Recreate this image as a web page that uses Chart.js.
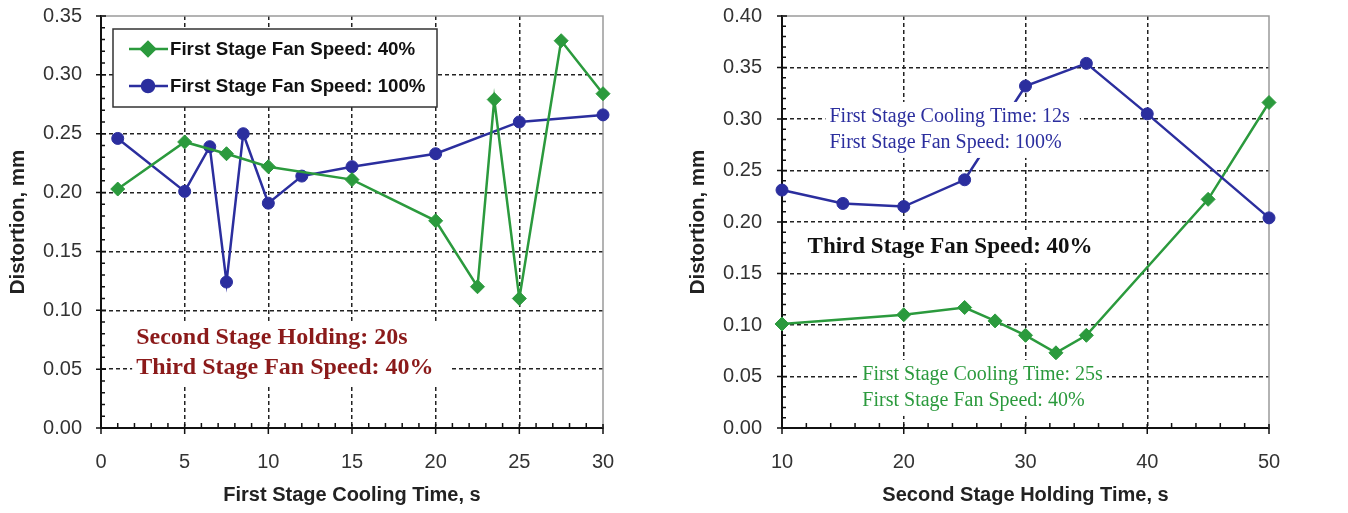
<!DOCTYPE html>
<html>
<head>
<meta charset="utf-8">
<title>Distortion vs cooling and holding time</title>
<script src="https://cdn.jsdelivr.net/npm/chart.js@4/dist/chart.umd.min.js"></script>
<style>
  html, body { margin: 0; padding: 0; background: #fff; }
  #wrap { position: relative; width: 1348px; height: 513px; overflow: hidden; }
  canvas { position: absolute; top: 0; }
</style>
</head>
<body>
<div id="wrap">
  <canvas id="left" width="670" height="513" style="left:0"></canvas>
  <canvas id="right" width="678" height="513" style="left:670px"></canvas>
</div>
<script>
// first stage cooling time sweep
const coolTime40 = [1, 5, 7.5, 10, 15, 20, 22.5, 23.5, 25, 27.5, 30];
const distort40 = [0.203, 0.243, 0.233, 0.222, 0.211, 0.176, 0.120, 0.279, 0.110, 0.329, 0.284];
const coolTime100 = [1, 5, 6.5, 7.5, 8.5, 10, 12, 15, 20, 25, 30];
const distort100 = [0.246, 0.201, 0.239, 0.124, 0.250, 0.191, 0.214, 0.222, 0.233, 0.260, 0.266];

// second stage holding time sweep
const holdTime12s = [10, 15, 20, 25, 30, 35, 40, 50];
const distort12s = [0.231, 0.218, 0.215, 0.241, 0.332, 0.354, 0.305, 0.204];
const holdTime25s = [10, 20, 25, 27.5, 30, 32.5, 35, 45, 50];
const distort25s = [0.101, 0.110, 0.117, 0.104, 0.090, 0.073, 0.090, 0.222, 0.316];

// axis ticks
const coolTicks = [0, 5, 10, 15, 20, 25, 30];
const holdTicks = [10, 20, 30, 40, 50];
const leftDistTicks = [0, 0.05, 0.10, 0.15, 0.20, 0.25, 0.30, 0.35];
const rightDistTicks = [0, 0.05, 0.10, 0.15, 0.20, 0.25, 0.30, 0.35, 0.40];

const legendLabels = ['First Stage Fan Speed: 40%', 'First Stage Fan Speed: 100%'];

const GREEN = '#2b9a3d';
const BLUE = '#2b2e9e';
const SANS = '"Liberation Sans", Arial, sans-serif';
const SERIF = '"Liberation Serif", "Times New Roman", serif';

const toXY = (xs, ys) => xs.map((x, i) => ({x: x, y: ys[i]}));

function series(label, xs, ys, color, shape) {
  return {
    label: label,
    data: toXY(xs, ys),
    borderColor: color,
    backgroundColor: color,
    borderWidth: 2.5,
    pointStyle: shape,
    pointRadius: shape === 'rectRot' ? 7 : 6,
    pointBorderWidth: 1,
    tension: 0,
    clip: false
  };
}

// gray frame on top/right plus the crossing major ticks and inner minor ticks
const axisMarks = {
  id: 'axisMarks',
  beforeDatasetsDraw(chart, args, opts) {
    const {ctx, chartArea: a, scales: {x, y}} = chart;
    ctx.save();
    ctx.strokeStyle = '#9a9a9a';
    ctx.lineWidth = 1.5;
    ctx.beginPath();
    ctx.moveTo(a.left, a.top);
    ctx.lineTo(a.right, a.top);
    ctx.lineTo(a.right, a.bottom);
    ctx.stroke();

    ctx.strokeStyle = '#111';
    ctx.lineWidth = 1.5;
    ctx.beginPath();
    const ny = Math.round((y.max - y.min) / opts.yMinor);
    for (let i = 0; i <= ny; i++) {
      const py = y.getPixelForValue(y.min + i * opts.yMinor);
      const major = i % opts.yEvery === 0;
      ctx.moveTo(a.left - (major ? 5 : 0), py);
      ctx.lineTo(a.left + (major ? 5 : 4), py);
    }
    const nx = Math.round((x.max - x.min) / opts.xMinor);
    for (let i = 0; i <= nx; i++) {
      const px = x.getPixelForValue(x.min + i * opts.xMinor);
      const major = i % opts.xEvery === 0;
      ctx.moveTo(px, a.bottom + (major ? 6 : 0));
      ctx.lineTo(px, a.bottom - (major ? 4 : 5));
    }
    ctx.stroke();
    ctx.restore();
  },
  afterDatasetsDraw(chart, args, opts) {
    const {ctx, scales: {x, y}} = chart;
    (opts.notes || []).forEach(n => {
      ctx.save();
      ctx.font = n.font;
      const px = x.getPixelForValue(n.x);
      const py = y.getPixelForValue(n.y);
      const w = Math.max(...n.lines.map(t => ctx.measureText(t).width));
      ctx.fillStyle = '#fff';
      ctx.fillRect(px - 4, py - n.lh / 2 - 2, w + 4 + n.padR, n.lh * n.lines.length + 4);
      ctx.fillStyle = n.color;
      ctx.textBaseline = 'middle';
      n.lines.forEach((t, i) => ctx.fillText(t, px, py + i * n.lh));
      ctx.restore();
    });

    if (opts.legend) {
      const a = chart.chartArea;
      const bx = a.left + 12, by = a.top + 13, bw = 324, bh = 78;
      ctx.save();
      ctx.fillStyle = '#fff';
      ctx.fillRect(bx, by, bw, bh);
      ctx.strokeStyle = '#333';
      ctx.lineWidth = 1.5;
      ctx.strokeRect(bx, by, bw, bh);
      ctx.font = 'bold 18.7px ' + SANS;
      ctx.textBaseline = 'middle';
      chart.data.datasets.forEach((ds, i) => {
        const ly = by + 20 + i * 37;
        ctx.strokeStyle = ds.borderColor;
        ctx.lineWidth = 2.5;
        ctx.beginPath();
        ctx.moveTo(bx + 16, ly);
        ctx.lineTo(bx + 55, ly);
        ctx.stroke();
        ctx.fillStyle = ds.backgroundColor;
        Chart.helpers.drawPoint(ctx, {pointStyle: ds.pointStyle, radius: ds.pointRadius, rotation: 0, borderWidth: 1}, bx + 35, ly);
        ctx.fillStyle = '#111';
        ctx.fillText(ds.label, bx + 57, ly + 1);
      });
      ctx.restore();
    }
  }
};

function makeScales(xTicks, yTicks, xTitle, yAxis) {
  const edge = (vals) => (c) => (c.tick && (c.tick.value === vals[0] || c.tick.value === vals[vals.length - 1])) ? 'rgba(0,0,0,0)' : '#222';
  return {
    x: {
      type: 'linear',
      min: xTicks[0],
      max: xTicks[xTicks.length - 1],
      afterBuildTicks: s => { s.ticks = xTicks.map(v => ({value: v})); },
      afterFit: s => { s.height = 85; s.paddingLeft = 0; s.paddingRight = 0; },
      grid: { color: edge(xTicks), lineWidth: 1.5, drawTicks: false },
      border: { color: '#111', width: 2, dash: [4, 3] },
      ticks: { color: '#333', font: {family: SANS, size: 20}, padding: 22, maxRotation: 0 },
      title: { display: true, text: xTitle, color: '#222', font: {family: SANS, size: 20, weight: 'bold'}, padding: {top: 0, bottom: 6} }
    },
    y: {
      type: 'linear',
      min: yTicks[0],
      max: yTicks[yTicks.length - 1],
      afterBuildTicks: s => { s.ticks = yTicks.map(v => ({value: v})); },
      afterFit: s => { s.width = yAxis.width; s.paddingTop = 0; s.paddingBottom = 0; },
      grid: { color: edge(yTicks), lineWidth: 1.5, drawTicks: false },
      border: { color: '#111', width: 2, dash: [4, 3] },
      ticks: { color: '#333', font: {family: SANS, size: 20}, padding: yAxis.pad, callback: v => v.toFixed(2) },
      title: { display: true, text: 'Distortion, mm', color: '#222', font: {family: SANS, size: 20.5, weight: 'bold'}, padding: {top: yAxis.title, bottom: 0} }
    }
  };
}

const common = (padding) => ({
  responsive: false,
  animation: false,
  devicePixelRatio: 1,
  layout: { padding: padding }
});

new Chart(document.getElementById('left'), {
  type: 'line',
  data: {
    datasets: [
      series(legendLabels[0], coolTime40, distort40, GREEN, 'rectRot'),
      series(legendLabels[1], coolTime100, distort100, BLUE, 'circle')
    ]
  },
  options: Object.assign(common({left: 0, top: 16, right: 67, bottom: 0}), {
    scales: makeScales(coolTicks, leftDistTicks, 'First Stage Cooling Time, s', {width: 101, pad: 19, title: 6}),
    plugins: {
      legend: { display: false },
      tooltip: { enabled: false },
      axisMarks: {
        xMinor: 1, xEvery: 5, yMinor: 0.01, yEvery: 5, legend: true,
        notes: [
          {x: 2.1, y: 0.0765, lh: 30, padR: 18, color: '#8b1a1a', font: 'bold 24px ' + SERIF,
           lines: ['Second Stage Holding: 20s', 'Third Stage Fan Speed: 40%']}
        ]
      }
    }
  }),
  plugins: [axisMarks]
});

new Chart(document.getElementById('right'), {
  type: 'line',
  data: {
    datasets: [
      series('First Stage Cooling Time: 12s', holdTime12s, distort12s, BLUE, 'circle'),
      series('First Stage Cooling Time: 25s', holdTime25s, distort25s, GREEN, 'rectRot')
    ]
  },
  options: Object.assign(common({left: 0, top: 16, right: 79, bottom: 0}), {
    scales: makeScales(holdTicks, rightDistTicks, 'Second Stage Holding Time, s', {width: 112, pad: 20, title: 16}),
    plugins: {
      legend: { display: false },
      tooltip: { enabled: false },
      axisMarks: {
        xMinor: 2, xEvery: 5, yMinor: 0.01, yEvery: 5,
        notes: [
          {x: 13.9, y: 0.302, lh: 26, padR: 10, color: BLUE, font: '20px ' + SERIF,
           lines: ['First Stage Cooling Time: 12s', 'First Stage Fan Speed: 100%']},
          {x: 12.1, y: 0.1757, lh: 28, padR: 6, color: '#111', font: 'bold 23px ' + SERIF,
           lines: ['Third Stage Fan Speed: 40%']},
          {x: 16.6, y: 0.0515, lh: 26, padR: 4, color: GREEN, font: '20px ' + SERIF,
           lines: ['First Stage Cooling Time: 25s', 'First Stage Fan Speed: 40%']}
        ]
      }
    }
  }),
  plugins: [axisMarks]
});
</script>
</body>
</html>
